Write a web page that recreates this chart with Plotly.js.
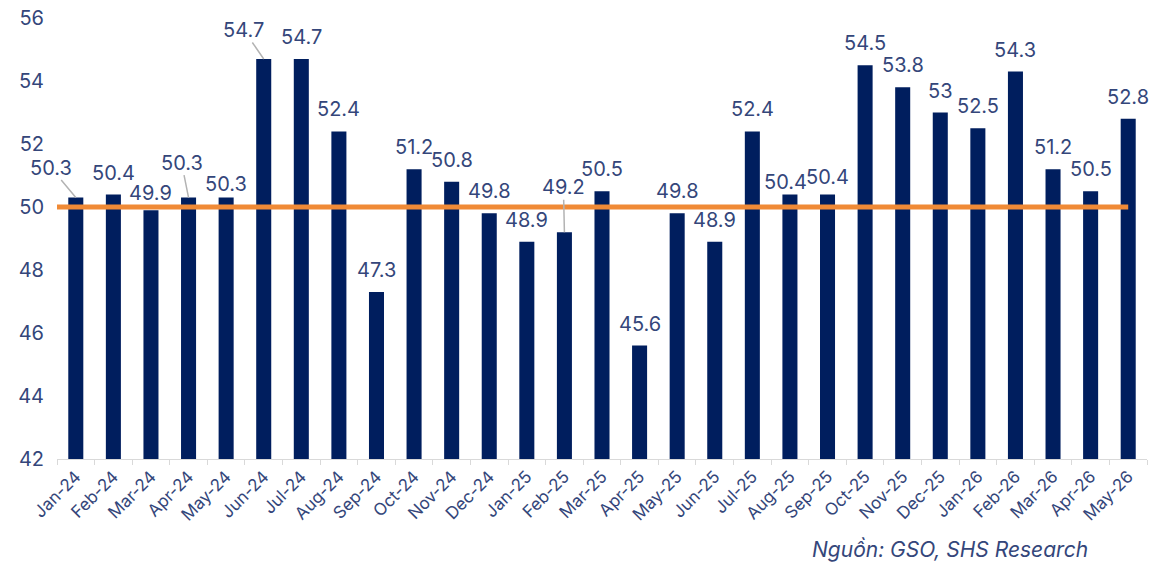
<!DOCTYPE html>
<html>
<head>
<meta charset="utf-8">
<script src="https://cdn.plot.ly/plotly-3.0.1.min.js"></script>
<style>html,body{margin:0;padding:0;background:#fff;}#chart{width:1161px;height:565px;}</style>
</head>
<body>
<div id="chart"></div>
<script>
const months = ["Jan-24","Feb-24","Mar-24","Apr-24","May-24","Jun-24","Jul-24","Aug-24","Sep-24","Oct-24","Nov-24","Dec-24",
  "Jan-25","Feb-25","Mar-25","Apr-25","May-25","Jun-25","Jul-25","Aug-25","Sep-25","Oct-25","Nov-25","Dec-25",
  "Jan-26","Feb-26","Mar-26","Apr-26","May-26"];
const pmi = [50.3,50.4,49.9,50.3,50.3,54.7,54.7,52.4,47.3,51.2,50.8,49.8,
  48.9,49.2,50.5,45.6,49.8,48.9,52.4,50.4,50.4,54.5,53.8,53,
  52.5,54.3,51.2,50.5,52.8];
const threshold = 50;
const axisMin = 42, axisMax = 56;
const yTicks = [42,44,46,48,50,52,54,56];
const sourceText = "Nguồn: GSO, SHS Research";

// label placement (styling only)
const leaderLabels = {"Jan-24":[-25,-30],"Apr-24":[-7,-35],"Jun-24":[-20,-29],"Feb-25":[-1,-45]};
const labelShift = {"Mar-24":17,"May-24":14,"Aug-25":12,"Sep-25":17,"Feb-24":21};
const labelXShift = {"Aug-25":-4};

const navy = "#001e5e";
const txt = "#34467a";
const font = "Inter, 'Noto Sans', sans-serif";
const labelSize = 20;

const annotations = months.map((m,i)=>{
  if (leaderLabels[m]) {
    return {x:m, y:pmi[i], xref:'x', yref:'y', text:String(pmi[i]), showarrow:true,
      arrowhead:0, arrowwidth:1.5, arrowcolor:'#b3b3b3', ax:leaderLabels[m][0], ay:leaderLabels[m][1],
      standoff:0, startstandoff:0, font:{family:font,size:labelSize,color:txt}, borderpad:0};
  }
  return {x:m, y:pmi[i], xref:'x', yref:'y', text:String(pmi[i]), showarrow:false,
    yanchor:'middle', yshift:(labelShift[m]!==undefined?labelShift[m]:22), xshift:(labelXShift[m]||0),
    font:{family:font,size:labelSize,color:txt}};
});
annotations.push({xref:'paper', yref:'paper', x:(1090-57)/(1147-57), y:0, yshift:-90,
  xanchor:'right', yanchor:'middle', text:'<i>'+sourceText+'</i>', showarrow:false,
  font:{family:font,size:21,color:txt}});

const data = [{
  type:'bar', x:months, y:pmi.map(v=>v-axisMin), base:axisMin, marker:{color:navy}, width:0.4,
  hoverinfo:'x'
}];

const layout = {
  width:1161, height:565,
  margin:{l:57, r:14, t:18, b:106},
  paper_bgcolor:'#fff', plot_bgcolor:'#fff',
  showlegend:false,
  xaxis:{type:'category', tickangle:-45, tickfont:{family:font,size:17,color:txt},
    showline:true, linecolor:'#d9d9d9', linewidth:1, ticks:'outside', tickson:'boundaries',
    ticklen:5, tickcolor:'#d9d9d9', showgrid:false, range:[-0.5,28.5], fixedrange:true},
  yaxis:{range:[axisMin,axisMax], tickvals:yTicks, showgrid:false, zeroline:false, showline:false,
    tickfont:{family:font,size:20,color:txt}, ticklabelstandoff:12, fixedrange:true},
  shapes:[{type:'line', xref:'x', yref:'y', x0:-0.5, x1:months.length-1, y0:threshold, y1:threshold,
    line:{color:'#f08a36', width:5}, layer:'above'}],
  annotations:annotations
};
Plotly.newPlot('chart', data, layout, {displayModeBar:false, staticPlot:true});
</script>
</body>
</html>
